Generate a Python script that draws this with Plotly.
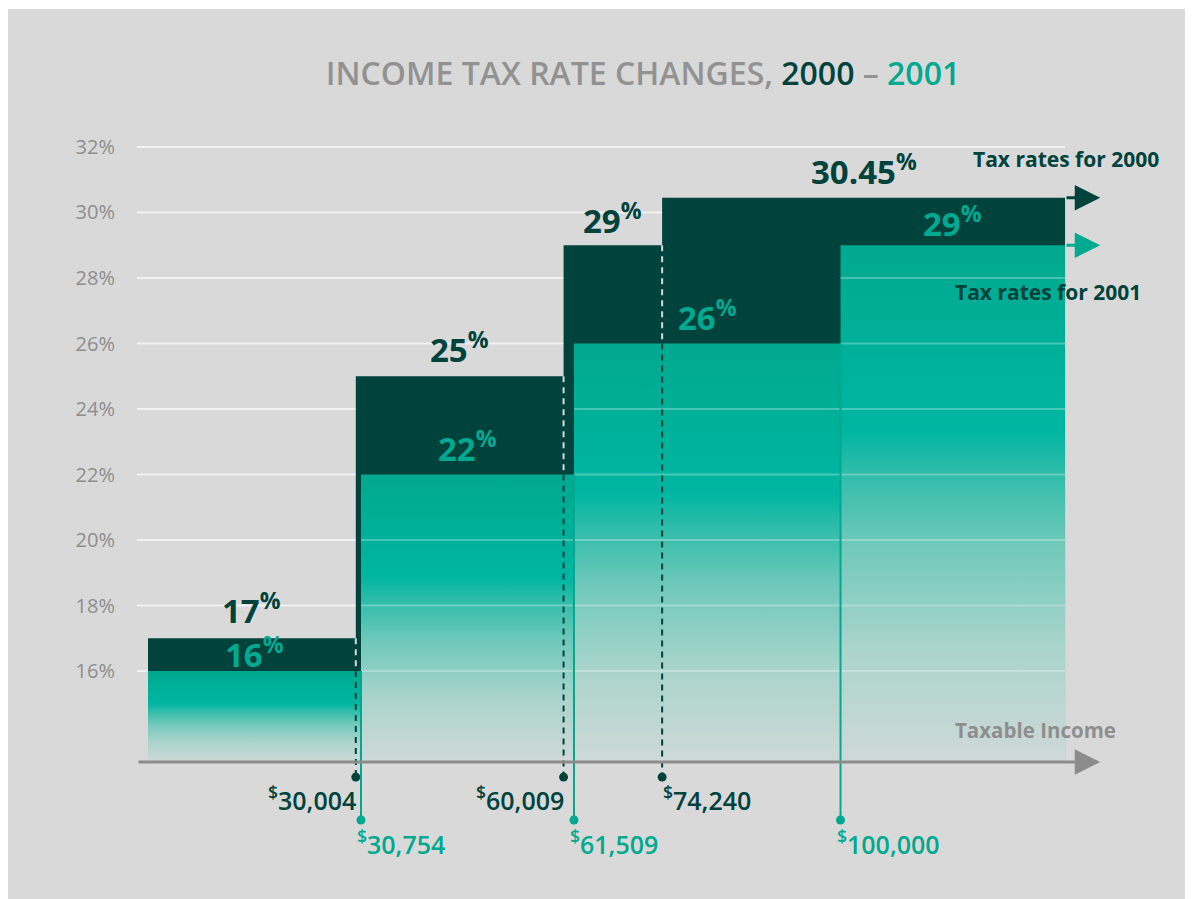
import plotly.graph_objects as go

# ---------------- data ----------------
thresholds_2000 = [0, 30004, 60009, 74240]
rates_2000 = [17, 25, 29, 30.45]
thresholds_2001 = [0, 30754, 61509, 100000]
rates_2001 = [16, 22, 26, 29]
income_cap = 132420          # where the open-ended top bracket is cut off
y_ticks = [16, 18, 20, 22, 24, 26, 28, 30, 32]
y_tick_labels = [f"{v}%" for v in y_ticks]
series_names = ["Tax rates for 2000", "Tax rates for 2001"]
x_title = "Taxable Income"

# ---------------- style / layout ----------------
W, H = 1193, 899
OFF = 8                      # page offset of the figure in the screenshot
L, R, T, B = 129, 0, 0, 0
PW, PH = W - L - R, H - T - B
X_RANGE = [-1590, 152052]
Y_RANGE = [8.794, 36.244]
BASE = 13.22
ARROW_TIP_X = 137500
DOT_Y_2000 = 12.76
DOT_Y_2001 = 11.45

DARK = "#00423c"
TEAL = "#00a98f"
GRAY_TXT = "#8e8e8e"
AXIS_GRAY = "#8c8c8c"
BG = "#d9d9d9"
GRID = "#f2f2f2"
FONT = "Open Sans, Noto Sans, sans-serif"
GRAD = [[0.0, "#cfd9d7"], [0.22, "#aad4cc"], [0.42, "#70c9bb"],
        [0.56, "#2fbcaa"], [0.64, "#00b6a2"], [1.0, "#00a98f"]]
LABEL_YSHIFT = {2000: [3, 2, 0, 2], 2001: [-8, 2, 2, -3]}


def px_x(p):
    return (p - OFF - L) / PW


def px_y(p):
    return 1 - (p - OFF - T) / PH


def rate_at(x, thr, rates):
    r = rates[0]
    for t, v in zip(thr, rates):
        if t <= x:
            r = v
    return r


def fmt_rate(r):
    return f"{r:g}"


fig = go.Figure()

# background + gridlines (below traces)
shapes = [dict(type="rect", xref="paper", yref="paper", x0=px_x(6), x1=1.01,
               y0=-0.01, y1=px_y(9), fillcolor=BG, line_width=0, layer="below")]
for v in y_ticks:
    shapes.append(dict(type="line", xref="x", yref="y", x0=X_RANGE[0], x1=income_cap,
                       y0=v, y1=v, line=dict(color=GRID, width=2), layer="below"))

# 2000 step area (dark)
edges00 = thresholds_2000[1:] + [income_cap]
xs, ys = [thresholds_2000[0]], [BASE]
for x0, x1, r in zip(thresholds_2000, edges00, rates_2000):
    xs += [x0, x1]
    ys += [r, r]
xs += [income_cap, thresholds_2000[0]]
ys += [BASE, BASE]
fig.add_trace(go.Scatter(x=xs, y=ys, fill="toself", fillcolor=DARK, mode="lines",
                         line=dict(width=0), hoverinfo="skip", showlegend=False))

# 2001 bars (gradient)
edges01 = thresholds_2001[1:] + [income_cap]
for x0, x1, r in zip(thresholds_2001, edges01, rates_2001):
    fig.add_trace(go.Scatter(x=[x0, x0, x1, x1, x0], y=[BASE, r, r, BASE, BASE],
                             fill="toself", mode="lines", line=dict(width=0),
                             fillgradient=dict(type="vertical", colorscale=GRAD),
                             hoverinfo="skip", showlegend=False))

# faint grid showing through the 2001 bars
gx, gy = [], []
for x0, x1, r in zip(thresholds_2001, edges01, rates_2001):
    for v in y_ticks:
        if BASE < v < r - 0.05:
            gx += [x0, x1, None]
            gy += [v, v, None]
fig.add_trace(go.Scatter(x=gx, y=gy, mode="lines", line=dict(color="rgba(255,255,255,0.28)", width=2),
                         hoverinfo="skip", showlegend=False))

# 2000 thresholds: dashed lines + dots
for i in range(1, len(thresholds_2000)):
    t = thresholds_2000[i]
    top = rates_2000[i - 1]
    mid = rate_at(t, thresholds_2001, rates_2001)
    fig.add_trace(go.Scatter(x=[t, t], y=[top, mid], mode="lines",
                             line=dict(color="rgba(235,235,235,0.9)", width=2, dash="6px,5px"),
                             hoverinfo="skip", showlegend=False))
    fig.add_trace(go.Scatter(x=[t, t], y=[mid, DOT_Y_2000], mode="lines",
                             line=dict(color=DARK, width=2, dash="6px,5px"),
                             hoverinfo="skip", showlegend=False))
fig.add_trace(go.Scatter(x=thresholds_2000[1:], y=[DOT_Y_2000] * 3, mode="markers",
                         marker=dict(color=DARK, size=9), hoverinfo="skip", showlegend=False))

# 2001 thresholds: solid lines + dots
for i in range(1, len(thresholds_2001)):
    t = thresholds_2001[i]
    fig.add_trace(go.Scatter(x=[t, t], y=[rates_2001[i - 1], DOT_Y_2001], mode="lines",
                             line=dict(color=TEAL, width=2), hoverinfo="skip", showlegend=False))
fig.add_trace(go.Scatter(x=thresholds_2001[1:], y=[DOT_Y_2001] * 3, mode="markers",
                         marker=dict(color=TEAL, size=9), hoverinfo="skip", showlegend=False))

ann = []
# rate labels
for yr, thr, rates, col in [(2000, thresholds_2000, rates_2000, DARK),
                            (2001, thresholds_2001, rates_2001, TEAL)]:
    edges = thr[1:] + [income_cap]
    for x0, x1, r, ys_ in zip(thr, edges, rates, LABEL_YSHIFT[yr]):
        ann.append(dict(x=(x0 + x1) / 2, y=r, xref="x", yref="y", yanchor="bottom",
                        xanchor="center", yshift=ys_, showarrow=False,
                        text=f"{fmt_rate(r)}<sup>%</sup>",
                        font=dict(family=FONT, size=33, color=col, weight=700)))

# dollar labels
anchors_2000 = ["right", "right", "left"]
shifts_2000 = [2, 2, -1]
for t, a, s in zip(thresholds_2000[1:], anchors_2000, shifts_2000):
    ann.append(dict(x=t, y=DOT_Y_2000, xref="x", yref="y", xanchor=a, yanchor="top",
                    xshift=s, yshift=-1, showarrow=False, text=f"<sup>$</sup>{t:,}",
                    font=dict(family=FONT, size=25, color=DARK, weight=600)))
for t in thresholds_2001[1:]:
    ann.append(dict(x=t, y=DOT_Y_2001, xref="x", yref="y", xanchor="left", yanchor="top",
                    xshift=-6, yshift=-2, showarrow=False, text=f"<sup>$</sup>{t:,}",
                    font=dict(family=FONT, size=25, color=TEAL, weight=600)))

# arrows
for r, col in [(rates_2000[-1], DARK), (rates_2001[-1], TEAL)]:
    ann.append(dict(x=ARROW_TIP_X, y=r, ax=income_cap, ay=r, xref="x", yref="y",
                    axref="x", ayref="y", text="", showarrow=True, arrowhead=2,
                    arrowsize=1.7, arrowwidth=3, arrowcolor=col, standoff=0, startstandoff=0))
ann.append(dict(x=ARROW_TIP_X, y=BASE, ax=X_RANGE[0], ay=BASE, xref="x", yref="y",
                axref="x", ayref="y", text="", showarrow=True, arrowhead=2,
                arrowsize=1.7, arrowwidth=3, arrowcolor=AXIS_GRAY, standoff=0, startstandoff=0))

# series / axis titles
ann.append(dict(x=px_x(1161), y=px_y(159), xref="paper", yref="paper", xanchor="right",
                yanchor="middle", showarrow=False, text=series_names[0],
                font=dict(family=FONT, size=21, color=DARK, weight=700)))
ann.append(dict(x=px_x(1143), y=px_y(292), xref="paper", yref="paper", xanchor="right",
                yanchor="middle", showarrow=False, text=series_names[1],
                font=dict(family=FONT, size=21, color=DARK, weight=700)))
ann.append(dict(x=px_x(1118), y=px_y(730), xref="paper", yref="paper", xanchor="right",
                yanchor="middle", showarrow=False, text=x_title,
                font=dict(family=FONT, size=20.5, color=GRAY_TXT, weight=700)))

fig.update_layout(
    width=W, height=H,
    margin=dict(l=L, r=R, t=T, b=B, pad=0),
    paper_bgcolor="white", plot_bgcolor="rgba(0,0,0,0)",
    shapes=shapes, annotations=ann, showlegend=False,
    title=dict(text=f'INCOME TAX RATE CHANGES, <span style="color:{DARK}">2000</span> '
                    f'– <span style="color:{TEAL}">2001</span>',
               x=(643 - OFF) / W, xanchor="center", y=1 - (74 - OFF) / H, yanchor="middle",
               xref="container", yref="container",
               font=dict(family=FONT, size=32, color="#929292", weight=600)),
    xaxis=dict(range=X_RANGE, visible=False, fixedrange=True),
    yaxis=dict(range=Y_RANGE, tickvals=y_ticks, ticktext=y_tick_labels, showgrid=False,
               zeroline=False, showline=False, ticks="", ticklabelstandoff=21,
               automargin=False, tickfont=dict(family=FONT, size=20, color=GRAY_TXT)),
)

fig.write_html("out.html")
